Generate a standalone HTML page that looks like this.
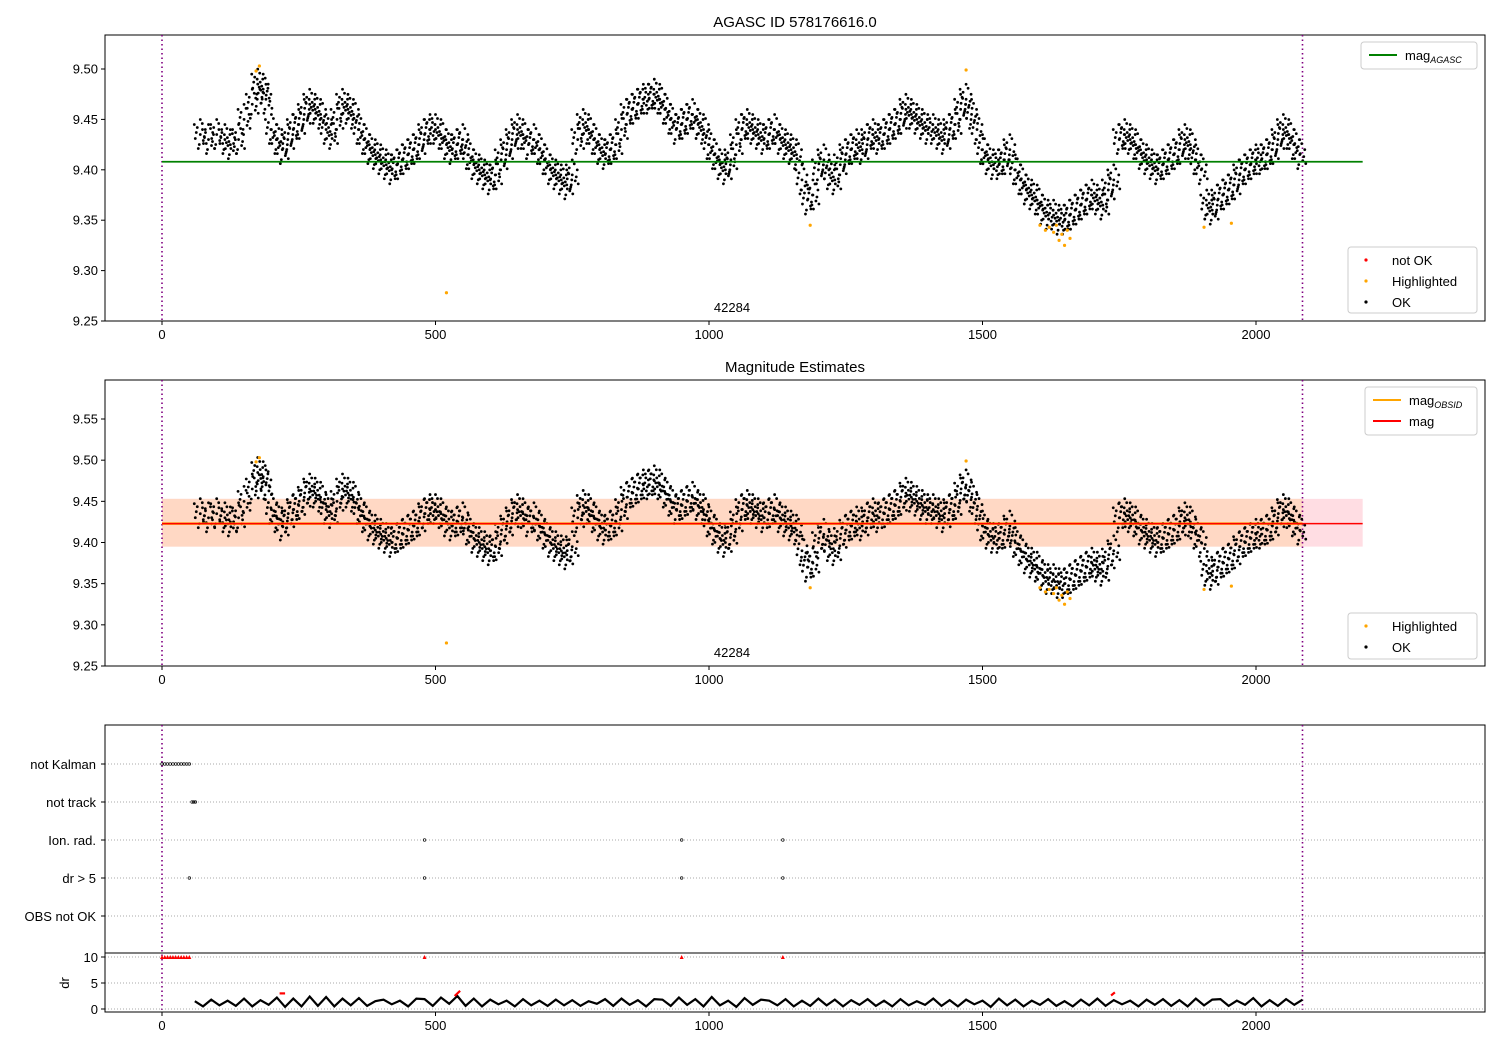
<!DOCTYPE html>
<html><head><meta charset="utf-8"><style>
body{margin:0;background:#fff;}
svg{font-family:"Liberation Sans","DejaVu Sans",sans-serif;}
</style></head><body>
<svg id="c" width="1500" height="1050" viewBox="0 0 1500 1050"></svg>
<script>
// ---- data ----
const magX = [70,85,100,115,125,140,150,165,175,185,190,200,210,220,230,240,250,260,270,280,290,300,310,320,330,340,350,360,370,380,390,400,410,420,430,440,450,460,470,480,490,500,510,520,530,540,550,560,570,580,590,600,610,620,630,640,650,660,670,680,690,700,710,720,730,740,750,760,770,780,790,800,810,820,830,840,850,860,870,880,890,900,910,920,930,940,950,960,970,980,990,1000,1010,1020,1030,1040,1050,1060,1070,1080,1090,1100,1110,1120,1130,1140,1150,1160,1170,1180,1190,1200,1210,1220,1230,1240,1250,1260,1270,1280,1290,1300,1310,1320,1330,1340,1350,1360,1370,1380,1390,1400,1410,1420,1430,1440,1450,1460,1470,1480,1490,1500,1510,1520,1530,1540,1550,1560,1570,1580,1590,1600,1610,1620,1630,1640,1650,1660,1670,1680,1690,1700,1710,1720,1730,1740,1750,1760,1770,1780,1790,1800,1810,1820,1830,1840,1850,1860,1870,1880,1890,1900,1910,1920,1930,1940,1950,1960,1970,1980,1990,2000,2010,2020,2030,2040,2050,2060,2070,2080];
const magY = [9.435,9.43,9.435,9.43,9.425,9.43,9.45,9.465,9.485,9.48,9.47,9.44,9.43,9.42,9.43,9.44,9.445,9.455,9.465,9.46,9.455,9.44,9.435,9.45,9.465,9.46,9.455,9.44,9.43,9.42,9.415,9.41,9.405,9.4,9.405,9.41,9.415,9.42,9.425,9.435,9.44,9.44,9.435,9.425,9.42,9.425,9.43,9.415,9.405,9.4,9.395,9.39,9.395,9.41,9.42,9.43,9.44,9.435,9.425,9.43,9.42,9.41,9.4,9.395,9.39,9.385,9.395,9.43,9.445,9.44,9.43,9.42,9.415,9.42,9.425,9.44,9.455,9.46,9.465,9.47,9.47,9.475,9.47,9.46,9.45,9.44,9.445,9.45,9.455,9.445,9.44,9.425,9.415,9.405,9.4,9.41,9.425,9.44,9.445,9.44,9.435,9.43,9.435,9.44,9.43,9.425,9.42,9.415,9.39,9.37,9.375,9.4,9.41,9.395,9.39,9.405,9.415,9.42,9.425,9.42,9.43,9.435,9.43,9.435,9.44,9.445,9.45,9.46,9.455,9.45,9.445,9.44,9.44,9.435,9.43,9.44,9.445,9.46,9.47,9.455,9.44,9.42,9.41,9.405,9.405,9.41,9.42,9.4,9.39,9.38,9.375,9.37,9.36,9.355,9.355,9.35,9.35,9.355,9.36,9.365,9.37,9.375,9.37,9.365,9.38,9.39,9.43,9.435,9.43,9.425,9.415,9.41,9.405,9.4,9.405,9.41,9.415,9.42,9.43,9.425,9.41,9.4,9.365,9.36,9.37,9.375,9.38,9.385,9.395,9.4,9.405,9.41,9.41,9.415,9.42,9.43,9.44,9.435,9.425,9.415];
const hlX = [172,178,520,1185,1470,1605,1615,1622,1630,1635,1640,1645,1650,1655,1660,1905,1955];
const hlY = [9.498,9.503,9.278,9.345,9.499,9.345,9.34,9.343,9.338,9.345,9.33,9.336,9.325,9.34,9.332,9.343,9.347];
const magAgasc = 9.408;
const magObs = 9.423;
const magLow = 9.395, magHigh = 9.453;
const obsEnd = 2085;
const categories = ["not Kalman","not track","Ion. rad.","dr > 5","OBS not OK"];
const catX = [[0,5,10,15,20,25,30,35,40,45,50],[55,58,61],[480,950,1135],[50,480,950,1135],[]];
const drRedX = [0,5,10,15,20,25,30,35,40,45,50,480,950,1135];
const drX = [60,75,90,105,120,135,150,165,180,195,210,225,240,255,270,285,300,315,330,345,360,375,390,405,420,435,450,465,480,495,510,525,540,555,570,585,600,615,630,645,660,675,690,705,720,735,750,765,780,795,810,825,840,855,870,885,900,915,930,945,960,975,990,1005,1020,1035,1050,1065,1080,1095,1110,1125,1140,1155,1170,1185,1200,1215,1230,1245,1260,1275,1290,1305,1320,1335,1350,1365,1380,1395,1410,1425,1440,1455,1470,1485,1500,1515,1530,1545,1560,1575,1590,1605,1620,1635,1650,1665,1680,1695,1710,1725,1740,1755,1770,1785,1800,1815,1830,1845,1860,1875,1890,1905,1920,1935,1950,1965,1980,1995,2010,2025,2040,2055,2070,2085];
const drY = [1.5,0.5,1.8,0.7,1.6,0.6,2.0,0.5,1.7,0.8,2.2,0.4,2.0,0.5,2.4,0.6,2.3,0.5,2.0,0.7,2.1,0.6,1.5,1.8,0.9,1.6,0.5,2.0,1.9,0.6,2.2,1.0,2.5,0.6,2.0,0.5,1.8,0.9,1.6,0.5,1.9,0.7,1.6,0.6,1.8,0.7,1.7,0.6,1.5,1.0,1.9,0.6,2.0,0.8,1.7,0.5,1.9,1.8,0.6,2.2,0.8,1.9,0.5,2.3,0.7,1.6,0.4,2.1,0.8,1.8,1.6,0.7,1.9,0.5,1.6,0.6,2.0,0.7,1.8,0.5,1.7,0.8,1.9,0.6,1.6,0.5,1.9,0.7,1.5,0.8,2.0,0.6,1.7,0.5,1.8,0.9,1.6,0.4,2.0,0.7,1.8,0.5,1.6,0.8,1.9,0.6,1.5,0.5,1.8,0.7,2.0,0.6,1.7,0.9,1.6,0.5,1.8,0.8,1.9,0.6,1.7,0.5,2.0,0.7,1.8,1.9,0.6,1.6,0.8,2.1,0.5,1.7,0.6,1.9,0.8,1.8];
const drRedSegX = [[215,225],[535,545],[1735,1742]];
const drRedSegY = [[3.0,3.0],[2.5,3.5],[2.6,3.2]];
const xTicks = [0,500,1000,1500,2000];
const y1Ticks = [9.25,9.30,9.35,9.40,9.45,9.50];
const y2Ticks = [9.25,9.30,9.35,9.40,9.45,9.50,9.55];
const drTicks = [0,5,10];

// ---- scales ----
const X0=105,X1=1485;
const sx = v => 162 + v*0.547;
const sy1 = v => 321 - (v-9.25)*1008;
const sy2 = v => 666 - (v-9.25)*823.3;
const sc = i => 764 + i*38;
const sd = v => 1009 - v*5.2;

const svg=document.getElementById('c');
const NS='http://www.w3.org/2000/svg';
function mk(tag,at,parent){const e=document.createElementNS(NS,tag);for(const k in at)e.setAttribute(k,at[k]);(parent||svg).appendChild(e);return e;}
function txt(s,x,y,anchor,size,parent){const t=mk('text',{x:x,y:y,'text-anchor':anchor||'middle','font-size':size||13,fill:'#000'},parent);t.textContent=s;return t;}

// jitter pattern in pixels (marker cloud styling)
const pat=[[0,0],[-3,-7],[3,6],[-5,4],[5,-5],[-1,10],[2,-11],[-4,-2],[4,2],[0,-15],[-2,14],[6,9],[-6,-10]];

function axesBox(top,bot,name){const g=mk('g',{});return g;}
function frame(g,top,bot){mk('rect',{x:X0,y:top,width:X1-X0,height:bot-top,fill:'none',stroke:'#000','stroke-width':1},g);}
function xaxis(g,bot){const ga=mk('g',{},g);
 xTicks.forEach(t=>{mk('line',{x1:sx(t),x2:sx(t),y1:bot,y2:bot+4,stroke:'#000'},ga);txt(String(t),sx(t),bot+18,'middle',13,ga);});}
function yaxis(g,ticks,f){const ga=mk('g',{},g);
 ticks.forEach(t=>{mk('line',{x1:X0-4,x2:X0,y1:f(t),y2:f(t),stroke:'#000'},ga);txt(t.toFixed(2),X0-7,f(t)+4.5,'end',13,ga);});}
function vlines(g,top,bot){[0,obsEnd].forEach(v=>mk('line',{x1:sx(v),x2:sx(v),y1:top,y2:bot,stroke:'#800080','stroke-width':1.6,'stroke-dasharray':'1.5,3'},g));}
function cloud(g,f,name){const gp=mk('g',{},g);
 magX.forEach((x,i)=>{const cx=sx(x),cy=f(magY[i]);pat.forEach(p=>mk('circle',{cx:cx+p[0],cy:cy+p[1],r:1.4,fill:'#000'},gp));});}
function hl(g,f){const gp=mk('g',{},g);
 hlX.forEach((x,i)=>mk('circle',{cx:sx(x),cy:f(hlY[i]),r:1.6,fill:'orange'},gp));}
function legend(g,x,y,w,h,items,name){const gl=mk('g',{},g);
 mk('rect',{x:x,y:y,width:w,height:h,fill:'#fff',stroke:'#ccc',rx:3},gl);
 items.forEach((it,i)=>{const yy=y+13+i*21;
  if(it.type==='line')mk('line',{x1:x+8,x2:x+36,y1:yy,y2:yy,stroke:it.c,'stroke-width':2},gl);
  else mk('circle',{cx:x+18,cy:yy,r:1.6,fill:it.c},gl);
  const t=txt(it.t,x+44,yy+5,'start',13,gl);if(it.sub){const s=mk('tspan',{'font-size':9,'font-style':'italic',dy:3},t);s.textContent=it.sub;}
 });}

// ---- panel 1 ----
txt('AGASC ID 578176616.0',795,27,'middle',15);
const p1=axesBox(35,321,'panel-agasc');
frame(p1,35,321);vlines(p1,35,321);
cloud(p1,sy1,'ok-points');hl(p1,sy1);
mk('line',{x1:sx(0),x2:sx(2195),y1:sy1(magAgasc),y2:sy1(magAgasc),stroke:'green','stroke-width':1.8},p1);
txt('42284',732,312,'middle',13,p1);
xaxis(p1,321);yaxis(p1,y1Ticks,sy1);
legend(p1,1361,42,116,27,[{type:'line',c:'green',t:'mag',sub:'AGASC'}],'legend-top');
legend(p1,1348,247,129,66,[{c:'red',t:'not OK'},{c:'orange',t:'Highlighted'},{c:'#000',t:'OK'}],'legend-points');

// ---- panel 2 ----
txt('Magnitude Estimates',795,372,'middle',15);
const p2=axesBox(380,666,'panel-estimates');
mk('rect',{x:sx(0),y:sy2(magHigh),width:sx(2195)-sx(0),height:sy2(magLow)-sy2(magHigh),fill:'#ffdde3'},p2);
mk('rect',{x:sx(0),y:sy2(magHigh),width:sx(obsEnd)-sx(0),height:sy2(magLow)-sy2(magHigh),fill:'#ffd8c4'},p2);
frame(p2,380,666);vlines(p2,380,666);
cloud(p2,sy2,'ok-points-2');hl(p2,sy2);
mk('line',{x1:sx(0),x2:sx(obsEnd),y1:sy2(magObs),y2:sy2(magObs),stroke:'orange','stroke-width':2.5},p2);
mk('line',{x1:sx(0),x2:sx(2195),y1:sy2(magObs),y2:sy2(magObs),stroke:'red','stroke-width':1.5},p2);
txt('42284',732,657,'middle',13,p2);
xaxis(p2,666);yaxis(p2,y2Ticks,sy2);
legend(p2,1365,387,112,48,[{type:'line',c:'orange',t:'mag',sub:'OBSID'},{type:'line',c:'red',t:'mag'}],'legend-mag');
legend(p2,1348,613,129,46,[{c:'orange',t:'Highlighted'},{c:'#000',t:'OK'}],'legend-points-2');

// ---- panel 3 ----
const p3=axesBox(725,953,'panel-flags');
categories.forEach((c,i)=>{mk('line',{x1:X0,x2:X1,y1:sc(i),y2:sc(i),stroke:'#aaa','stroke-dasharray':'1,2'},p3);
 mk('line',{x1:X0-4,x2:X0,y1:sc(i),y2:sc(i),stroke:'#000'},p3);txt(c,X0-9,sc(i)+5,'end',13,p3);
 catX[i].forEach(x=>mk('circle',{cx:sx(x),cy:sc(i),r:1.3,fill:'none',stroke:'#000','stroke-width':0.7},p3));});
mk('rect',{x:X0,y:725,width:X1-X0,height:228,fill:'none',stroke:'#000'},p3);
const p4=axesBox(953,1012,'panel-dr');
drTicks.forEach(t=>{mk('line',{x1:X0,x2:X1,y1:sd(t),y2:sd(t),stroke:'#aaa','stroke-dasharray':'1,2'},p4);
 mk('line',{x1:X0-4,x2:X0,y1:sd(t),y2:sd(t),stroke:'#000'},p4);txt(String(t),X0-7,sd(t)+5,'end',13,p4);});
const dl=mk('polyline',{points:drX.map((x,i)=>sx(x)+','+sd(drY[i])).join(' '),fill:'none',stroke:'#000','stroke-width':2.2},p4);

drRedX.forEach(x=>mk('polygon',{points:`${sx(x)-2},${sd(10)+2} ${sx(x)+2},${sd(10)+2} ${sx(x)},${sd(10)-2}`,fill:'red'},p4));
drRedSegX.forEach((s,i)=>mk('line',{x1:sx(s[0]),x2:sx(s[1]),y1:sd(drRedSegY[i][0]),y2:sd(drRedSegY[i][1]),stroke:'red','stroke-width':2.2},p4));
mk('rect',{x:X0,y:953,width:X1-X0,height:59,fill:'none',stroke:'#000'},p4);
vlines(p3,725,1012);
const yl=txt('dr',69,983,'middle',13,p4);yl.setAttribute('transform','rotate(-90 69 983)');
xaxis(p4,1012);
</script>
</body></html>
